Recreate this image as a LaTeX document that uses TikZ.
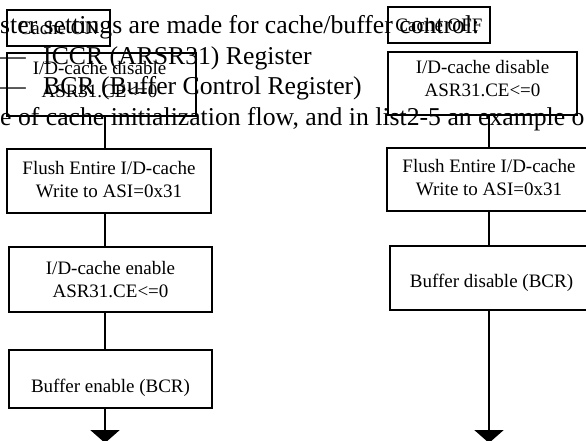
\documentclass[tikz,border=0pt]{standalone}
\usepackage{fontspec}
\setmainfont{Liberation Serif}
\usetikzlibrary{arrows.meta}

\begin{document}
\begin{tikzpicture}[x=1pt,y=-1pt,
  bodytext/.style={anchor=base west, inner sep=0pt, font=\fontsize{25.7}{30}\selectfont},
  flowbox/.style={draw, line width=2.6pt, inner sep=0pt},
  boxlabel/.style={align=center, inner sep=0pt, font=\fontsize{19}{23}\selectfont},
  conn/.style={line width=2.5pt},
  endarrow/.style={conn, -{Triangle[width=29pt,length=13pt]}}]
\useasboundingbox (0,0) rectangle (586,441);
\clip (0,0) rectangle (586,441);

% running text of the page behind the flowcharts
\node[bodytext] (l1) at (0,34) {ster settings are made for cache/buffer control:};
\node[bodytext] (d2) at (0,65) {—};
\node[bodytext] (l2) at (43,65) {ICCR (ARSR31) Register};
\node[bodytext] (d3) at (0,95) {—};
\node[bodytext] (l3) at (43,95) {BCR (Buffer Control Register)};
\node[bodytext] (l4) at (0,125) {e of cache initialization flow, and in list2-5 an example o};

% column axes
\coordinate (colL) at (105,0);
\coordinate (colR) at (489,0);
\coordinate (endL) at (105,443);
\coordinate (endR) at (489,443);

% cache ON flow
\node[flowbox, minimum width=103pt, minimum height=36pt,
  label={[boxlabel]center:Cache ON}] (onL) at (58.5,28) {};
\node[flowbox, minimum width=189pt, minimum height=63pt,
  label={[boxlabel, yshift=5pt, xshift=-2pt]center:I/D-cache disable\\ASR31.CE<=0}] (disL) at (101.5,84.5) {};
\node[flowbox, minimum width=204pt, minimum height=64pt,
  label={[boxlabel, yshift=1pt]center:Flush Entire I/D-cache\\Write to ASI=0x31}] (flushL) at (109,181) {};
\node[flowbox, minimum width=203pt, minimum height=65pt,
  label={[boxlabel]center:I/D-cache enable\\ASR31.CE<=0}] (enL) at (110.5,279.5) {};
\node[flowbox, minimum width=203pt, minimum height=58pt,
  label={[boxlabel, yshift=-8.5pt]center:Buffer enable (BCR)}] (bufL) at (110.5,379) {};

% cache OFF flow
\node[flowbox, minimum width=102pt, minimum height=36pt,
  label={[boxlabel]center:Cache OFF}] (offR) at (439,25) {};
\node[flowbox, minimum width=189pt, minimum height=63pt,
  label={[boxlabel, yshift=4.5pt]center:I/D-cache disable\\ASR31.CE<=0}] (disR) at (482.5,83.5) {};
\node[flowbox, minimum width=204pt, minimum height=63pt,
  label={[boxlabel, yshift=1.5pt]center:Flush Entire I/D-cache\\Write to ASI=0x31}] (flushR) at (489,179.5) {};
\node[flowbox, minimum width=203pt, minimum height=64pt,
  label={[boxlabel, yshift=-4.5pt]center:Buffer disable (BCR)}] (bufR) at (491.5,278) {};

% connectors
\draw[conn] (disL.south -| colL) -- (flushL.north -| colL);
\draw[conn] (flushL.south -| colL) -- (enL.north -| colL);
\draw[conn] (enL.south -| colL) -- (bufL.north -| colL);
\draw[endarrow] (bufL.south -| colL) -- (endL);

\draw[conn] (disR.south -| colR) -- (flushR.north -| colR);
\draw[conn] (flushR.south -| colR) -- (bufR.north -| colR);
\draw[endarrow] (bufR.south -| colR) -- (endR);
\end{tikzpicture}
\end{document}
